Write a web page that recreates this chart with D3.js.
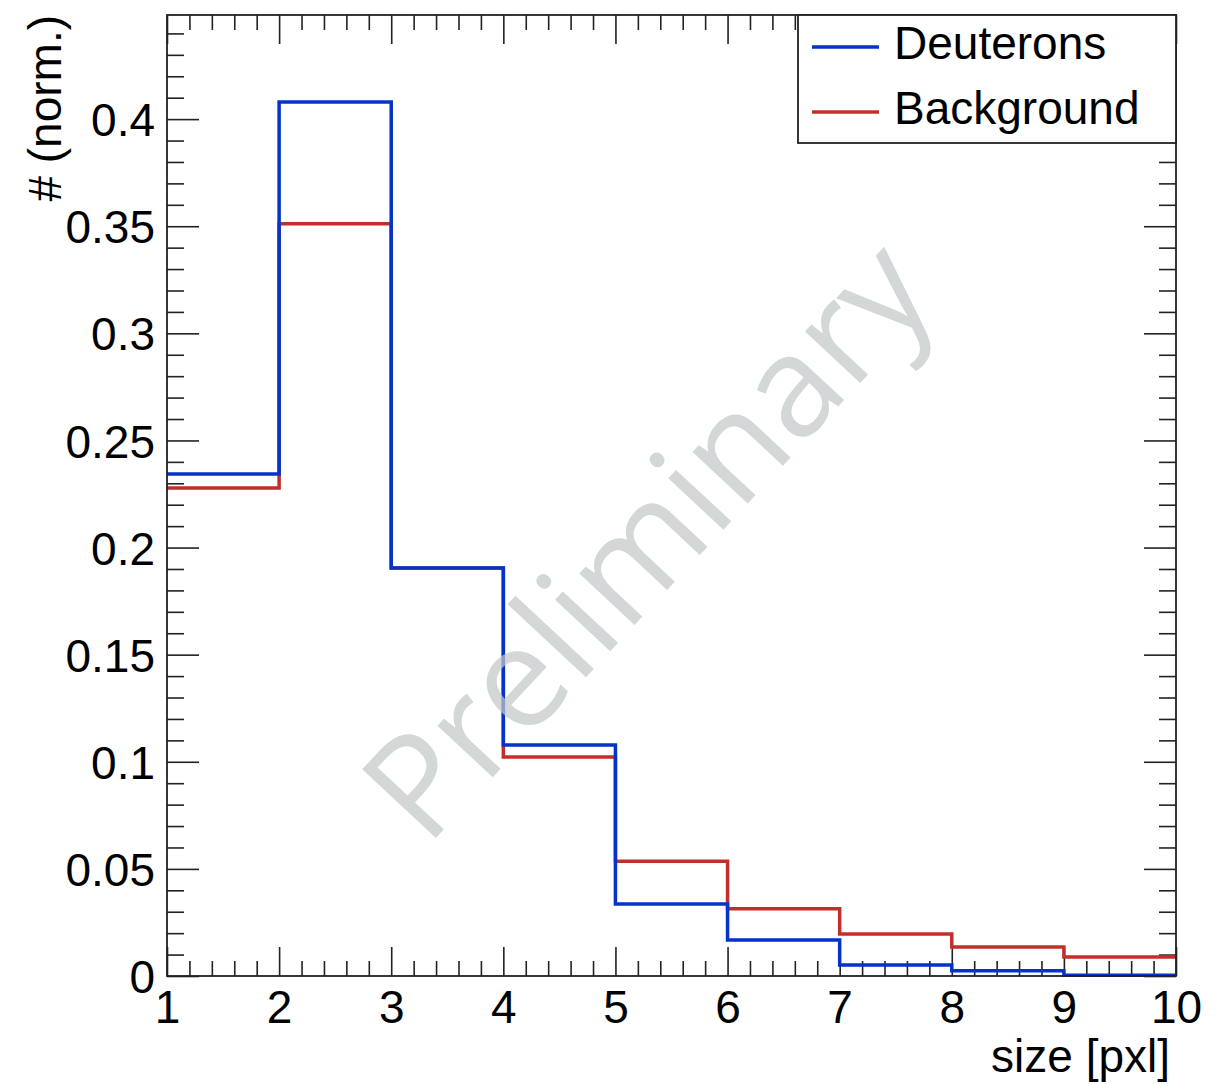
<!DOCTYPE html>
<html><head><meta charset="utf-8">
<script src="https://cdn.jsdelivr.net/npm/d3@7"></script>
<style>
html,body{margin:0;padding:0;background:#fff;}
svg{display:block;}
text{font-family:"Liberation Sans",Arial,Helvetica,sans-serif;}
</style></head>
<body>
<script>
// ---- data ----
const binEdges = [1, 2, 3, 4, 5, 6, 7, 8, 9, 10];
const deuterons = [0.2343, 0.4080, 0.1904, 0.1078, 0.0336, 0.0168, 0.0051, 0.0025, 0.0003];
const background = [0.2278, 0.3512, 0.1904, 0.1022, 0.0536, 0.0314, 0.0196, 0.0135, 0.0089];
const seriesNames = ["Deuterons", "Background"];
const xTickLabels = ["1","2","3","4","5","6","7","8","9","10"];
const yTickValues = [0, 0.05, 0.1, 0.15, 0.2, 0.25, 0.3, 0.35, 0.4];
const yTickLabels = ["0","0.05","0.1","0.15","0.2","0.25","0.3","0.35","0.4"];
const xTitle = "size [pxl]";
const yTitle = "# (norm.)";
const watermark = "Preliminary";

const W = 1227, H = 1084;
const L = 167, R = 1176, T = 15, B = 976;
const svg = d3.select("body").append("svg").attr("width", W).attr("height", H);

const x = d3.scaleLinear().domain([1, 10]).range([L, R]);
const y = d3.scaleLinear().domain([0, 0.4486]).range([B, T]);

const axisColor = "#222";
const g = svg.append("g");

const xMinor = d3.range(1, 10.0001, 0.2).filter(v => Math.abs(v - Math.round(v)) > 1e-6);
const yMinor = d3.range(0, 0.449, 0.01).filter(v => Math.abs(v/0.05 - Math.round(v/0.05)) > 1e-6);
const xMajor = binEdges;

function tickAxis(axisGen, transform, majorLen, minorLen, majors, minors, fmt) {
  const a = g.append("g").attr("transform", transform)
    .call(axisGen.tickValues(majors).tickSize(majorLen).tickFormat(fmt || ""));
  a.select(".domain").remove();
  a.selectAll(".tick line").attr("stroke", axisColor).attr("stroke-width", 1.6);
  const b = g.append("g").attr("transform", transform)
    .call(axisGen.tickValues(minors).tickSize(minorLen).tickFormat(""));
  b.select(".domain").remove();
  b.selectAll(".tick line").attr("stroke", axisColor).attr("stroke-width", 1.6);
  return a;
}
const bx = tickAxis(d3.axisBottom(x), `translate(0,${B})`, -29, -15, xMajor, xMinor, (d,i)=>xTickLabels[i]);
bx.selectAll(".tick text").attr("y", 14).attr("dy", "0.71em").style("font-size", "46px")
  .style("font-family", '"Liberation Sans",Arial,sans-serif').style("fill", "#000");
tickAxis(d3.axisTop(x), `translate(0,${T})`, -29, -15, xMajor, xMinor, null);
const ly = tickAxis(d3.axisLeft(y), `translate(${L},0)`, -32, -17, yTickValues, yMinor, (d,i)=>yTickLabels[i]);
ly.selectAll(".tick text").attr("x", -12).attr("dy", "0.36em").style("font-size", "46px")
  .style("font-family", '"Liberation Sans",Arial,sans-serif').style("fill", "#000");
tickAxis(d3.axisRight(y), `translate(${R},0)`, -32, -17, yTickValues, yMinor, null);

function stepPath(vals) {
  const pts = [];
  vals.forEach((v, i) => { pts.push([binEdges[i], v]); pts.push([binEdges[i+1], v]); });
  return d3.line().x(d => x(d[0])).y(d => y(d[1]))(pts);
}
const colors = ["#0533c9", "#c22f2b"];
svg.append("path").attr("d", stepPath(background)).attr("fill", "none")
  .attr("stroke", colors[1]).attr("stroke-width", 3.5).attr("stroke-linejoin", "miter");
svg.append("path").attr("d", stepPath(deuterons)).attr("fill", "none")
  .attr("stroke", colors[0]).attr("stroke-width", 3.5).attr("stroke-linejoin", "miter");

svg.append("rect").attr("x", L).attr("y", T).attr("width", R - L).attr("height", B - T)
  .attr("fill", "none").attr("stroke", axisColor).attr("stroke-width", 1.8);

svg.append("text").attr("x", 1170).attr("y", 1072).attr("text-anchor", "end")
  .style("font-size", "46px").style("fill", "#000").text(xTitle);
svg.append("text").attr("transform", "translate(61,15) rotate(-90)").attr("text-anchor", "end")
  .style("font-size", "46px").style("fill", "#000").text(yTitle);

const lg = svg.append("g");
lg.append("rect").attr("x", 798).attr("y", 15).attr("width", 1176 - 798).attr("height", 128)
  .attr("fill", "#fff").attr("stroke", axisColor).attr("stroke-width", 1.8);
const legRows = [{name: seriesNames[0], c: colors[0], yy: 47}, {name: seriesNames[1], c: colors[1], yy: 112}];
legRows.forEach(r => {
  lg.append("line").attr("x1", 812).attr("x2", 879).attr("y1", r.yy).attr("y2", r.yy)
    .attr("stroke", r.c).attr("stroke-width", 3.5);
  lg.append("text").attr("x", 894).attr("y", r.yy + 12).style("font-size", "46px")
    .style("fill", "#000").text(r.name);
});

svg.append("text").attr("transform", "translate(683,573) rotate(-47)")
  .attr("text-anchor", "middle")
  .style("font-family", '"Open Sans",sans-serif').style("font-size", "141px")
  .style("fill", "#c4c8c8").style("fill-opacity", 0.72).text(watermark);
</script>
</body></html>
